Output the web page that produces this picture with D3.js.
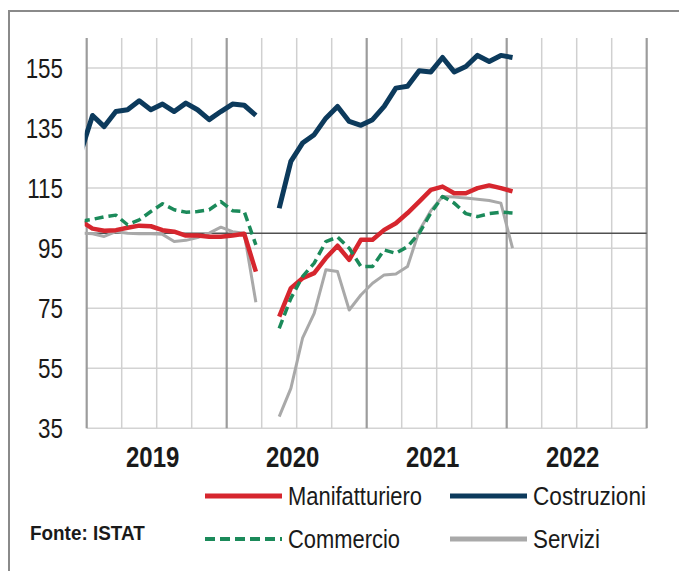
<!DOCTYPE html>
<html>
<head>
<meta charset="utf-8">
<script src="https://cdn.jsdelivr.net/npm/d3@7"></script>
<style>
  html, body { margin: 0; padding: 0; background: #fff; }
  svg { display: block; }
  .lbl { font-family: "Liberation Sans Narrow", "Arial Narrow", "Liberation Sans", sans-serif; fill: #1a1a1a; }
</style>
</head>
<body>
<svg id="chart" width="679" height="571"></svg>
<script>
// ---- DATA ----
// Month index: -1 = Dec 2018, 0 = Jan 2019 ... 36 = Jan 2022 ; null = missing (Apr 2020)
const monthIndex = d3.range(-1, 37);
const manifatturiero = [104, 101.5, 100.8, 101, 101.8, 102.5, 102.3, 101, 100.5, 99.2, 99.2, 98.8, 98.8, 99.2, 99.8, 87.2,
  null, 72.2, 81.7, 85, 86.7, 91.7, 95.8, 91.1, 97.8, 97.8, 101.1, 103.3, 106.7, 110.5, 114.4, 115.5, 113.3, 113.3, 115, 115.9, 115, 113.9];
const costruzioni = [127, 139.2, 135.5, 140.5, 141.1, 144.1, 141.1, 143, 140.5, 143.3, 141.1, 137.8, 140.5, 143, 142.6, 139.2,
  null, 108.3, 123.9, 130, 132.8, 138.3, 142.2, 137.2, 135.9, 137.8, 142.2, 148.3, 148.9, 154.1, 153.7, 158.5, 153.7, 155.5, 159.2, 157.2, 159.2, 158.5];
const commercio = [104, 104.6, 105.4, 106, 102.8, 104.4, 107.2, 109.8, 107.8, 107, 107.2, 107.8, 110.5, 107.5, 107.2, 96.1,
  null, 68.3, 78.3, 85.5, 90, 97.2, 98.7, 95, 88.9, 88.9, 94.4, 93.3, 95.5, 100, 106.7, 112.2, 110, 106.5, 105.5, 106.5, 107, 106.7];
const servizi = [100, 99.8, 98.9, 100.5, 100, 99.8, 99.8, 99.6, 97.2, 97.6, 98.5, 100, 102, 100.5, 100, 77,
  null, 38.9, 48.3, 65, 73.3, 87.8, 87.2, 74.4, 79.4, 83.3, 86.1, 86.4, 88.9, 100.8, 107.5, 112.2, 112, 111.7, 111.3, 110.9, 110, 95];
const years = ["2019", "2020", "2021", "2022"];
const yTicks = [35, 55, 75, 95, 115, 135, 155];
const refLevel = 100;

const seriesDefs = [
  { name: "Servizi", values: servizi, color: "#a9a9a9", width: 3, dash: null },
  { name: "Manifatturiero", values: manifatturiero, color: "#d6262e", width: 4.5, dash: null },
  { name: "Commercio", values: commercio, color: "#1b8a5a", width: 3.5, dash: "9,5" },
  { name: "Costruzioni", values: costruzioni, color: "#0c3a5c", width: 5, dash: null }
];

// ---- LAYOUT ----
const svg = d3.select("#chart");
const pLeft = 86.7, pRight = 646.7, pTop = 38, pBottom = 428.3;

const x = d3.scaleLinear().domain([0, 48]).range([pLeft, pRight]);
const y = d3.scaleLinear().domain([35, 165]).range([pBottom, pTop]);

// outer frame (right/bottom edges lie outside the picture)
svg.append("rect").attr("x", 9).attr("y", 11).attr("width", 700).attr("height", 620)
  .attr("fill", "none").attr("stroke", "#8a8a8a").attr("stroke-width", 2);

// horizontal grid
svg.append("g").selectAll("line").data(yTicks).join("line")
  .attr("x1", pLeft).attr("x2", pRight)
  .attr("y1", d => y(d)).attr("y2", d => y(d))
  .attr("stroke", "#d3d3d3").attr("stroke-width", 1.5);

// vertical grid (quarters) and year lines
const qs = d3.range(0, 49, 3);
svg.append("g").selectAll("line").data(qs.filter(q => q % 12 !== 0)).join("line")
  .attr("x1", d => x(d)).attr("x2", d => x(d))
  .attr("y1", pTop).attr("y2", pBottom)
  .attr("stroke", "#d0d0d0").attr("stroke-width", 1.5);
svg.append("g").selectAll("line").data(qs.filter(q => q % 12 === 0)).join("line")
  .attr("x1", d => x(d)).attr("x2", d => x(d))
  .attr("y1", pTop).attr("y2", pBottom)
  .attr("stroke", "#9c9c9c").attr("stroke-width", 2.2);

// reference line at 100
svg.append("line")
  .attr("x1", pLeft).attr("x2", pRight)
  .attr("y1", y(refLevel)).attr("y2", y(refLevel))
  .attr("stroke", "#505050").attr("stroke-width", 1.5);

// y tick labels
svg.append("g").selectAll("text").data(yTicks).join("text")
  .attr("class", "lbl")
  .attr("text-anchor", "end")
  .attr("transform", d => `translate(63,${y(d) + 10}) scale(0.8,1)`)
  .style("font-size", "28px")
  .text(d => d);

// year labels
svg.append("g").selectAll("text").data(years).join("text")
  .attr("class", "lbl")
  .attr("text-anchor", "middle")
  .attr("transform", (d, i) => `translate(${x(i * 12 + 6) - 4},467) scale(0.8,1)`)
  .style("font-size", "30px").style("font-weight", "bold")
  .text(d => d);

// clip
svg.append("clipPath").attr("id", "plotclip").append("rect")
  .attr("x", pLeft - 2).attr("y", 0).attr("width", pRight - pLeft + 4).attr("height", 571);

const line = d3.line()
  .defined(d => d[1] !== null)
  .x(d => x(d[0] + 0.5))
  .y(d => y(d[1]))
  .curve(d3.curveLinear);

const gLines = svg.append("g").attr("clip-path", "url(#plotclip)");
seriesDefs.forEach(s => {
  gLines.append("path")
    .datum(monthIndex.map((m, i) => [m, s.values[i]]))
    .attr("d", line)
    .attr("fill", "none")
    .attr("stroke", s.color)
    .attr("stroke-width", s.width)
    .attr("stroke-linejoin", "round")
    .attr("stroke-dasharray", s.dash);
});

// legend
const legendItems = [
  { s: seriesDefs[1], lx: 205, ly: 496, tw: 134 },
  { s: seriesDefs[3], lx: 450, ly: 496, tw: 113 },
  { s: seriesDefs[2], lx: 205, ly: 539, tw: 112 },
  { s: seriesDefs[0], lx: 450, ly: 539, tw: 67 }
];
const lg = svg.append("g");
legendItems.forEach(it => {
  lg.append("line")
    .attr("x1", it.lx).attr("x2", it.lx + 77)
    .attr("y1", it.ly).attr("y2", it.ly)
    .attr("stroke", it.s.color)
    .attr("stroke-width", it.s.dash ? 4 : 5)
    .attr("stroke-dasharray", it.s.dash ? "10,5" : null);
  lg.append("text").attr("class", "lbl")
    .attr("x", it.lx + 83).attr("y", it.ly + 9)
    .attr("textLength", it.tw).attr("lengthAdjust", "spacingAndGlyphs")
    .style("font-size", "25px")
    .text(it.s.name);
});

// source
svg.append("text").attr("class", "lbl")
  .attr("transform", "translate(30,540) scale(0.9,1)")
  .style("font-size", "21px").style("font-weight", "bold")
  .text("Fonte: ISTAT");
</script>
</body>
</html>
